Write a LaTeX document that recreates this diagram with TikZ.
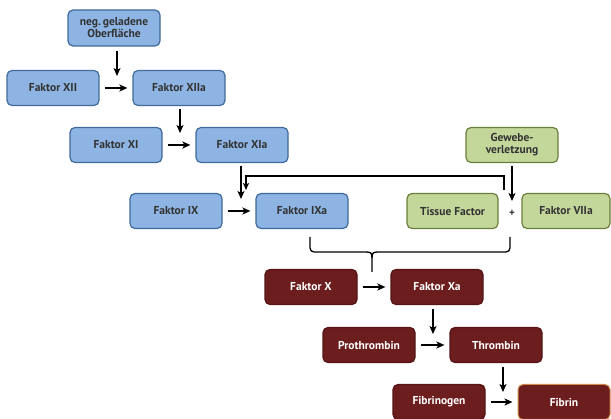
\documentclass[tikz,border=0pt]{standalone}
\usepackage{fontspec}
\setmainfont{PT Sans}
\usetikzlibrary{arrows.meta}
\definecolor{bfill}{HTML}{8DB4E2}
\definecolor{bdraw}{HTML}{3F6A9C}
\definecolor{gfill}{HTML}{C4D79B}
\definecolor{gdraw}{HTML}{6A7F3A}
\definecolor{rfill}{HTML}{6C1D1D}
\definecolor{rdraw}{HTML}{561414}
\definecolor{odraw}{HTML}{D08A4A}
\begin{document}
\begin{tikzpicture}[x=1pt,y=-1pt,
  box/.style={rounded corners=5pt, line width=1.2pt, minimum width=92pt, minimum height=35pt,
    inner sep=1pt, align=center, font=\bfseries\fontsize{11.5}{12}\selectfont},
  bluebox/.style={box, fill=bfill, draw=bdraw, text=black!80},
  greenbox/.style={box, fill=gfill, draw=gdraw, text=black!80},
  redbox/.style={box, fill=rfill, draw=rdraw, text=white},
  arr/.style={line width=1.7pt, -{Stealth[length=8pt,width=7pt,inset=2pt]}},
  hz/.style={arr, shorten >=5pt, shorten <=5pt},
  ln/.style={line width=1.3pt}]
\useasboundingbox (0,0) rectangle (611,419);
% nodes
\node[bluebox, minimum height=36pt] (neg) at (114,28) {neg.\,geladene\\Oberfläche};
\node[bluebox] (xii) at (53,88) {Faktor XII};
\node[bluebox] (xiia) at (179,88) {Faktor XIIa};
\node[bluebox] (xi) at (116,145) {Faktor XI};
\node[bluebox] (xia) at (242,145) {Faktor XIa};
\node[bluebox] (ix) at (176,211) {Faktor IX};
\node[bluebox] (ixa) at (302,211) {Faktor IXa};
\node[greenbox] (gew) at (512,145) {Gewebe-\\verletzung};
\node[greenbox, minimum width=91pt] (tf) at (452.5,211) {Tissue Factor};
\node[greenbox, minimum width=88pt] (viia) at (566,211) {Faktor VIIa};
\node[font=\bfseries\fontsize{11}{12}\selectfont, text=black!80, inner sep=0pt] (plus) at (512,213) {+};
\node[redbox] (x) at (311,287) {Faktor X};
\node[redbox] (xa) at (437,287) {Faktor Xa};
\node[redbox] (pro) at (369,345) {Prothrombin};
\node[redbox] (thr) at (496,345) {Thrombin};
\node[redbox] (fbg) at (439,402) {Fibrinogen};
\node[redbox, draw=odraw, line width=1pt] (fib) at (564,402) {Fibrin};
% junction coordinates
\coordinate (j1) at (117,76);
\coordinate (j2) at (180,133);
\coordinate (j3) at (241,199);
\coordinate (j4) at (246,190);
\coordinate (j5) at (504,190);
\coordinate (j6) at (512,201);
\coordinate (bl) at (310,237);
\coordinate (br) at (510,237);
\coordinate (bt) at (372,272);
\coordinate (j7) at (433,334);
\coordinate (j8) at (503,392);
% horizontal arrows
\draw[hz] (xii) -- (xiia);
\draw[hz] (xi) -- (xia);
\draw[hz] (ix) -- (ixa);
\draw[hz] (x) -- (xa);
\draw[hz] (pro) -- (thr);
\draw[hz] (fbg) -- (fib);
% vertical arrows
\draw[arr] (neg.south -| j1) ++(0,4) -- (j1);
\draw[arr] (xiia.south -| j2) ++(0,3) -- (j2);
\draw[arr] (xia.south -| j3) ++(0,3) -- (j3);
\draw[arr] (gew.south -| j6) ++(0,3) -- (j6);
\draw[arr] (xa.south -| j7) ++(0,4) -- (j7);
\draw[arr] (thr.south -| j8) ++(0,4) -- (j8);
% extrinsic feedback line
\draw[ln, -{Stealth[length=7pt,width=6pt,inset=1.6pt]}] (j5) -- (j5 |- 0,176) -- (j4 |- 0,176) -- (j4);
% brace
\draw[ln, rounded corners=4pt] (bl) -- (bl |- 0,252) -- (366,252);
\draw[ln, rounded corners=4pt] (br) -- (br |- 0,252) -- (378,252);
\draw[ln] (366,252) .. controls (371,252) and (372,253) .. (372,258) -- (bt);
\draw[ln] (378,252) .. controls (373,252) and (372,253) .. (372,258);
\end{tikzpicture}
\end{document}
